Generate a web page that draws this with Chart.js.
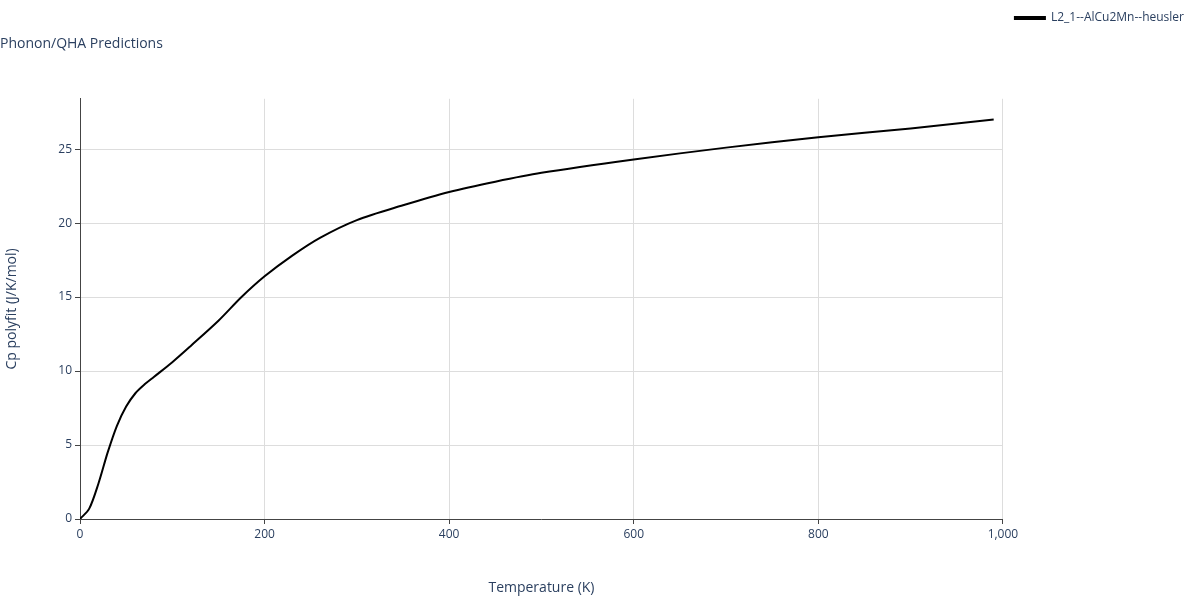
<!DOCTYPE html>
<html>
<head>
<meta charset="utf-8">
<script src="https://cdn.jsdelivr.net/npm/chart.js@4"></script>
<style>
  body { margin: 0; background: #fff; }
</style>
</head>
<body>
<canvas id="chart" width="1200" height="600"></canvas>
<script>
  // 温度 (K)
  const temperatures = [0, 10, 20, 30, 40, 50, 60, 70, 80, 100, 120, 150, 175, 200, 230, 260, 300, 350, 400, 450, 500, 600, 700, 800, 900, 990];
  // Cp polyfit (J/K/mol)
  const cpValues = [0, 0.7, 2.4, 4.5, 6.3, 7.6, 8.5, 9.1, 9.6, 10.6, 11.7, 13.4, 15.0, 16.4, 17.8, 19.0, 20.2, 21.2, 22.1, 22.8, 23.4, 24.3, 25.1, 25.8, 26.4, 27.0];
  const seriesName = 'L2_1--AlCu2Mn--heusler';

  const points = temperatures.map((t, i) => ({ x: t, y: cpValues[i] }));
  const fontColor = '#2a3f5f';

  new Chart(document.getElementById('chart').getContext('2d'), {
    type: 'line',
    data: {
      datasets: [
        {
          label: seriesName,
          data: points,
          borderColor: '#000',
          backgroundColor: '#000',
          borderWidth: 2,
          pointRadius: 0,
          tension: 0.3,
        },
      ],
    },
    options: {
      responsive: false,
      animation: false,
      layout: { padding: { left: 0, right: 6, top: 0, bottom: 0 } },
      plugins: {
        title: {
          display: true,
          text: 'Phonon/QHA Predictions',
          align: 'start',
          color: fontColor,
          font: { family: 'Open Sans', size: 14, weight: 'normal' },
          padding: { top: 36, bottom: 46 },
        },
        legend: {
          position: 'right',
          align: 'start',
          labels: {
            color: fontColor,
            font: { family: 'Open Sans', size: 12 },
            boxWidth: 30,
            boxHeight: 2,
            padding: 12,
          },
        },
      },
      scales: {
        x: {
          type: 'linear',
          min: 0,
          max: 1000,
          afterFit: (axis) => { axis.height = 81; },
          ticks: { stepSize: 200, maxRotation: 0, color: fontColor, font: { family: 'Open Sans', size: 12 } },
          grid: { color: '#ddd', tickColor: '#444', tickLength: 5 },
          border: { color: '#444' },
          title: { display: true, text: 'Temperature (K)', color: fontColor, font: { family: 'Open Sans', size: 14 }, padding: { top: 12 } },
        },
        y: {
          min: 0,
          max: 28.4,
          afterFit: (axis) => { axis.width = 80; },
          afterBuildTicks: (axis) => {
            axis.ticks = [0, 5, 10, 15, 20, 25].map((v) => ({ value: v }));
          },
          ticks: { color: fontColor, font: { family: 'Open Sans', size: 12 } },
          grid: { color: '#ddd', tickColor: '#444', tickLength: 5 },
          border: { color: '#444' },
          title: { display: true, text: 'Cp polyfit (J/K/mol)', color: fontColor, font: { family: 'Open Sans', size: 14 } },
        },
      },
    },
  });
</script>
</body>
</html>
